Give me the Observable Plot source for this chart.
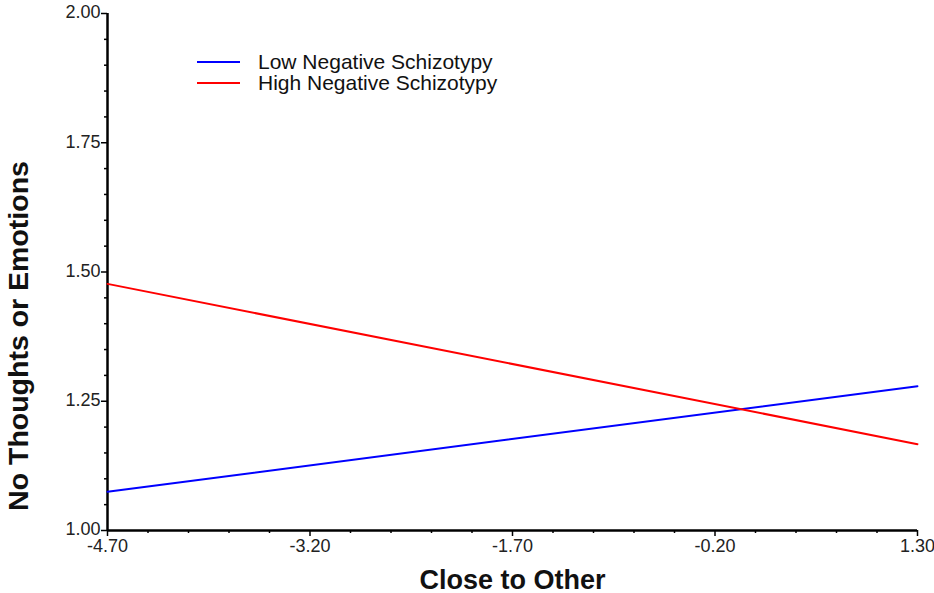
<!DOCTYPE html>
<html>
<head>
<meta charset="utf-8">
<script src="https://cdn.jsdelivr.net/npm/d3@7"></script>
<script src="https://cdn.jsdelivr.net/npm/@observablehq/plot@0.6"></script>
<style>
  body { margin: 0; background: #fff; font-family: Arial, "Liberation Sans", sans-serif; }
  #wrap { position: relative; width: 934px; height: 593px; }
  #legend { position: absolute; left: 197px; top: 51px; font-size: 21px; color: #111; line-height: 21px; }
  #legend .row { display: flex; align-items: center; height: 21px; }
  #legend .sw { width: 43px; height: 0; border-top: 2px solid; margin-right: 18px; }
</style>
</head>
<body>
<div id="wrap"><div id="legend"></div></div>
<script>
const seriesNames = ["Low Negative Schizotypy", "High Negative Schizotypy"];
const seriesColors = ["#0000ff", "#ff0000"];
const xValues = [-4.70, 1.30];
const lowValues = [1.075, 1.279];
const highValues = [1.477, 1.167];
const xTicks = [-4.70, -3.20, -1.70, -0.20, 1.30];
const yTicks = [1.00, 1.25, 1.50, 1.75, 2.00];
const xLabel = "Close to Other";
const yLabel = "No Thoughts or Emotions";

const data = [];
xValues.forEach((x, i) => {
  data.push({series: seriesNames[0], x, y: lowValues[i]});
  data.push({series: seriesNames[1], x, y: highValues[i]});
});
const xMinor = d3.range(0, 21).map(i => -4.7 + i * 0.3).filter((v, i) => i % 5 !== 0);
const yMinor = d3.range(0, 21).map(i => 1 + i * 0.05).filter((v, i) => i % 5 !== 0);
const fmt = d => d.toFixed(2);

const chart = Plot.plot({
  width: 934,
  height: 593,
  marginLeft: 107,
  marginRight: 17,
  marginTop: 13,
  marginBottom: 63,
  style: {fontFamily: "Arial, 'Liberation Sans', sans-serif", fontSize: "18px", color: "#222", background: "#fff"},
  x: {domain: [-4.7, 1.3]},
  y: {domain: [1, 2]},
  color: {domain: seriesNames, range: seriesColors},
  marks: [
    Plot.axisX(xMinor, {tickSize: 3, text: null, label: null, strokeWidth: 1.5, stroke: "#000"}),
    Plot.axisX(xTicks, {tickSize: 6, tickPadding: 3, tickFormat: fmt, strokeWidth: 1.5, stroke: "#000", fill: "#222", fontSize: 18, label: null}),
    Plot.axisY(yMinor, {tickSize: 3, text: null, label: null, strokeWidth: 1.5, stroke: "#000"}),
    Plot.axisY(yTicks, {tickSize: 6, text: null, label: null, strokeWidth: 1.5, stroke: "#000"}),
    Plot.axisY(yTicks, {tickSize: 0, tickPadding: 7, tickFormat: fmt, fill: "#222", fontSize: 18, label: null, dy: -1}),
    Plot.ruleX([-4.7], {stroke: "#000", strokeWidth: 2.5}),
    Plot.ruleY([1], {stroke: "#000", strokeWidth: 2.5}),
    Plot.line(data, {x: "x", y: "y", z: "series", stroke: "series", strokeWidth: 2}),
    Plot.text([xLabel], {frameAnchor: "bottom", dy: 58, fontSize: 27, fontWeight: "bold", fill: "#111"}),
    Plot.text([yLabel], {frameAnchor: "left", dx: -89, dy: 64, rotate: -90, textAnchor: "middle", fontSize: 28.5, fontWeight: "bold", fill: "#111"})
  ]
});
document.getElementById("wrap").prepend(chart);
const legend = document.getElementById("legend");
seriesNames.forEach((n, i) => {
  const row = document.createElement("div");
  row.className = "row";
  row.innerHTML = `<span class="sw" style="border-color:${seriesColors[i]}"></span><span>${n}</span>`;
  legend.appendChild(row);
});
</script>
</body>
</html>
